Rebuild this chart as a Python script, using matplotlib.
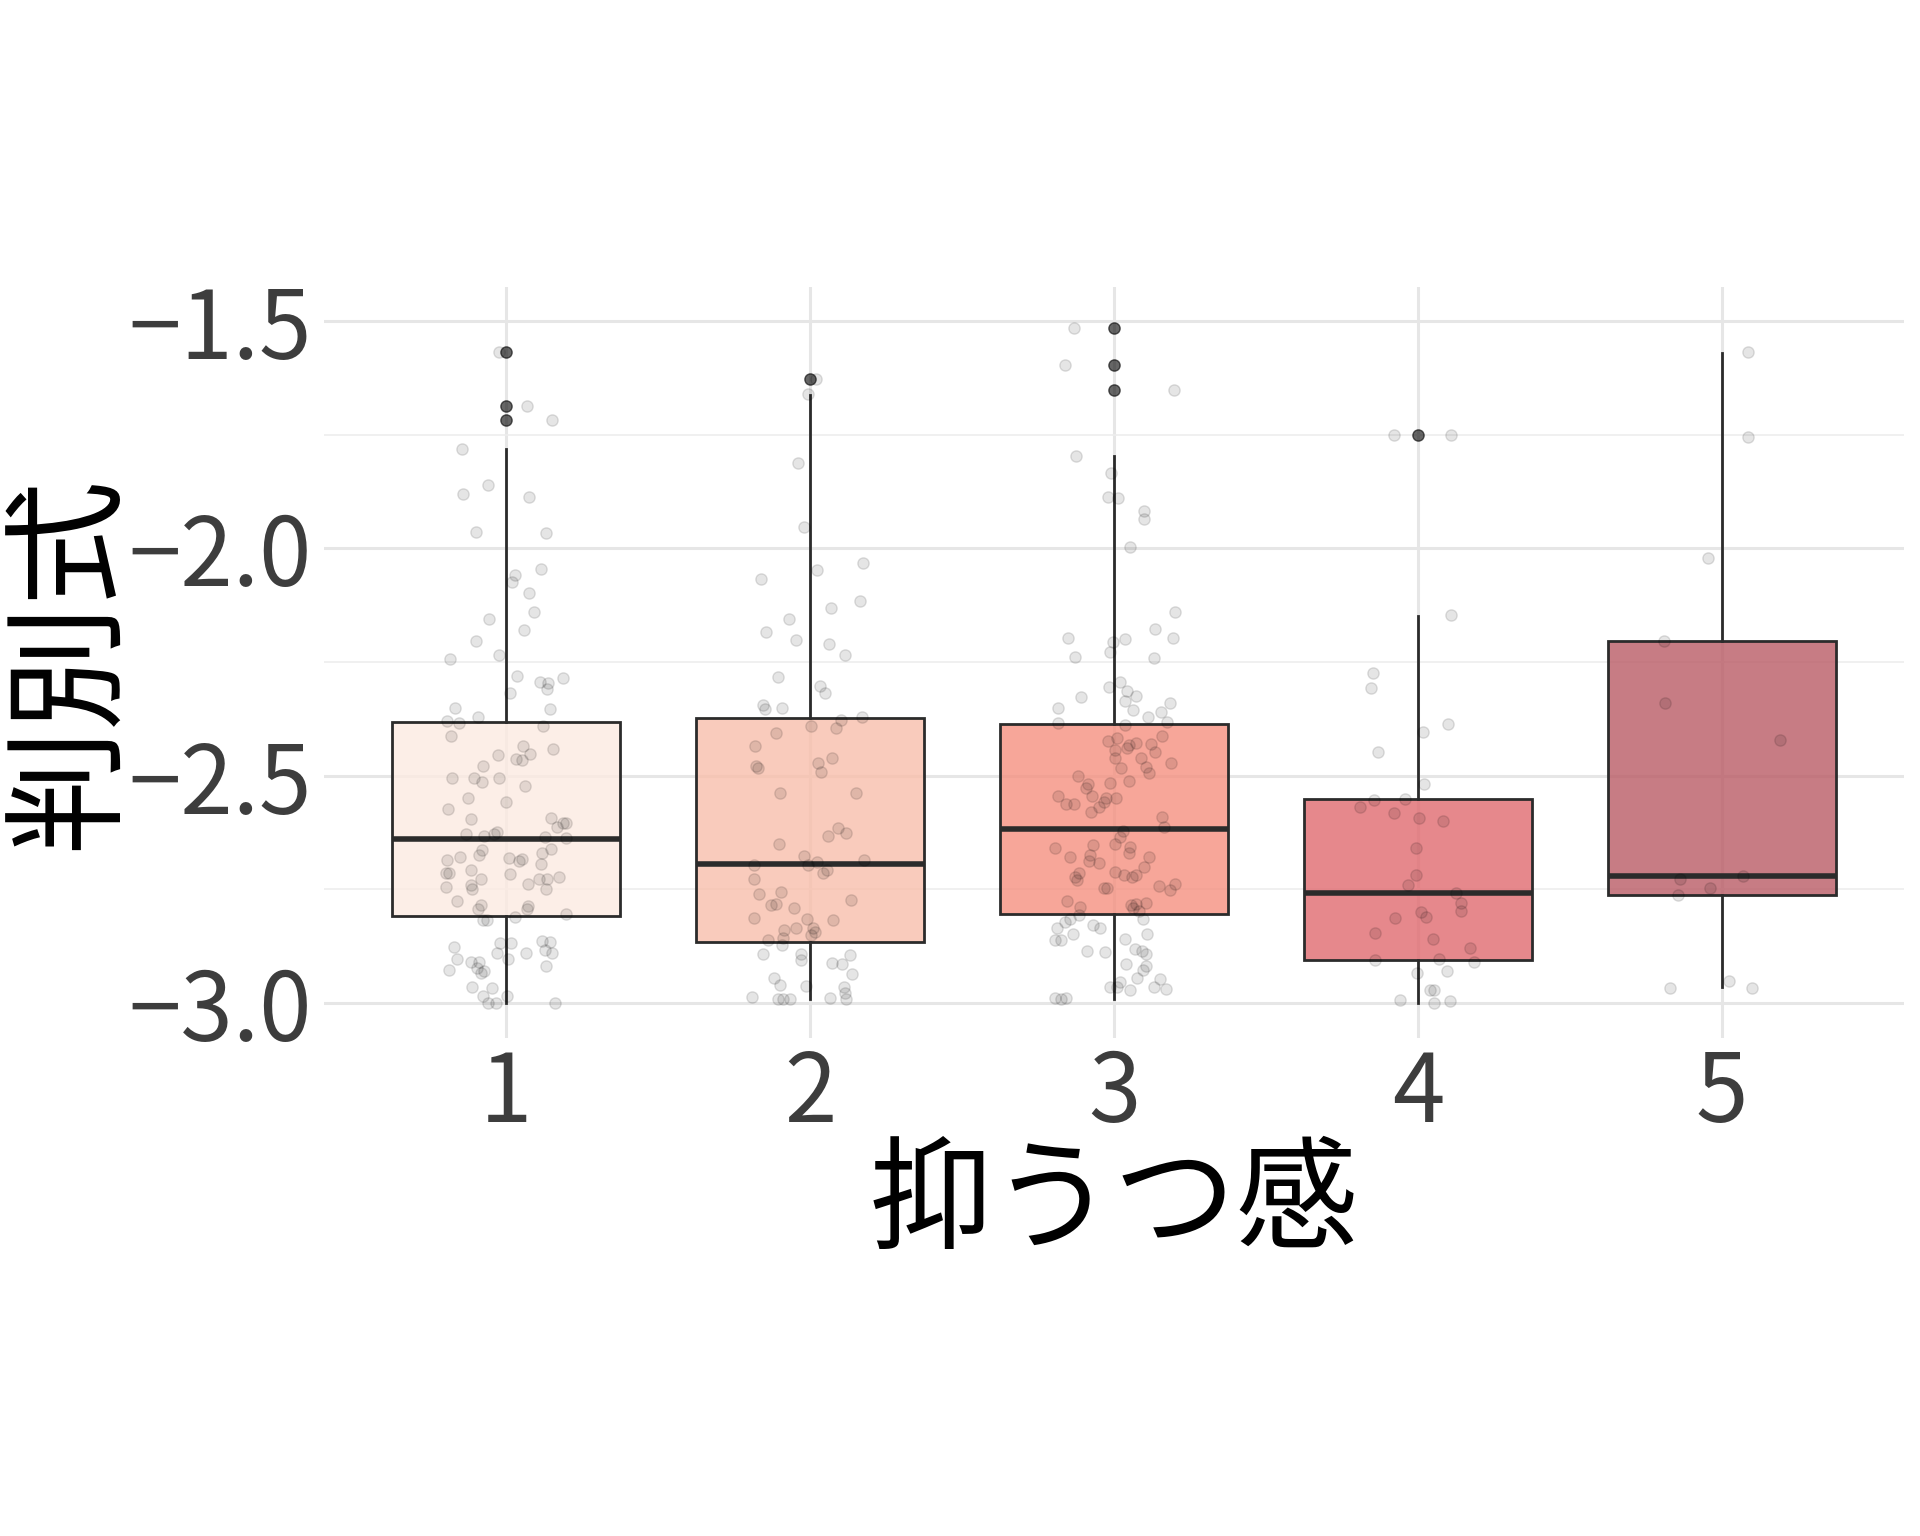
import matplotlib.pyplot as plt
import matplotlib.colors as mcolors
import numpy as np

# groups on the x axis (抑うつ感 score)
groups = ['1', '2', '3', '4', '5']

# box summaries
box_q1 = [-2.809, -2.866, -2.804, -2.905, -2.763]
box_med = [-2.640, -2.695, -2.617, -2.757, -2.720]
box_q3 = [-2.382, -2.374, -2.387, -2.551, -2.204]
whisk_lo = [-3.000, -2.991, -2.991, -3.000, -2.965]
whisk_hi = [-1.782, -1.662, -1.797, -2.148, -1.571]
outliers = [[-1.568, -1.686, -1.718], [-1.627], [-1.515, -1.596, -1.651], [-1.750], []]

fill_colors = ['#FCEAE2', '#F8BEAB', '#F59080', '#E06A6F', '#B95B65']

# jittered raw points: horizontal offset from the group centre, and value
g1_dx = [-0.026, 0.068, 0.150, -0.146, -0.059, -0.143, 0.073, -0.099, 0.129, 0.114,
         0.029, 0.018, 0.074, 0.092, -0.058, 0.058, -0.099, -0.026, -0.186, 0.034,
         0.109, 0.136, 0.186, 0.132, 0.012, -0.168, 0.145, -0.094, -0.197, -0.156,
         0.122, -0.181, 0.053, 0.155, -0.027, 0.032, 0.051, 0.079, -0.076, -0.179,
         -0.107, -0.026, -0.079, 0.060, -0.127, 0.000, -0.193, -0.116, 0.148, 0.186,
         0.197, 0.165, -0.134, -0.073, -0.041, -0.032, 0.127, 0.197, -0.080, 0.146,
         -0.153, -0.090, 0.118, -0.197, 0.007, 0.051, 0.042, 0.115, -0.115, -0.199,
         -0.188, 0.012, -0.082, 0.106, 0.132, 0.174, 0.071, -0.200, -0.118, -0.112,
         0.129, -0.163, -0.082, -0.094, 0.071, 0.067, 0.195, 0.029, -0.076, -0.065,
         -0.173, -0.021, 0.014, 0.118, 0.143, -0.162, -0.032, 0.065, 0.127, 0.150,
         0.006, -0.115, -0.090, -0.096, -0.190, -0.074, -0.085, 0.129, -0.113, -0.047,
         -0.076, -0.059, -0.033, 0.001, 0.160]
g1_y = [-1.568, -1.686, -1.718, -1.781, -1.860, -1.881, -1.886, -1.963, -1.966, -2.046,
        -2.059, -2.074, -2.097, -2.139, -2.156, -2.179, -2.204, -2.234, -2.244, -2.281,
        -2.294, -2.296, -2.284, -2.310, -2.319, -2.352, -2.354, -2.371, -2.380, -2.385,
        -2.390, -2.413, -2.435, -2.441, -2.455, -2.463, -2.465, -2.452, -2.478, -2.504,
        -2.504, -2.504, -2.514, -2.523, -2.549, -2.557, -2.574, -2.596, -2.594, -2.604,
        -2.604, -2.612, -2.628, -2.632, -2.628, -2.624, -2.635, -2.636, -2.663, -2.662,
        -2.678, -2.674, -2.671, -2.685, -2.682, -2.684, -2.688, -2.695, -2.707, -2.715,
        -2.715, -2.717, -2.727, -2.727, -2.727, -2.723, -2.739, -2.744, -2.741, -2.750,
        -2.750, -2.776, -2.784, -2.793, -2.786, -2.793, -2.805, -2.811, -2.818, -2.818,
        -2.876, -2.869, -2.869, -2.864, -2.866, -2.904, -2.890, -2.891, -2.884, -2.889,
        -2.903, -2.910, -2.910, -2.922, -2.928, -2.929, -2.935, -2.919, -2.965, -2.967,
        -2.984, -3.000, -3.000, -2.984, -3.000]

g2_dx = [0.019, -0.006, -0.039, -0.022, 0.022, 0.172, -0.162, 0.068, 0.163, -0.069,
         -0.145, -0.048, 0.062, 0.116, -0.105, 0.033, 0.047, -0.157, -0.148, -0.094,
         0.102, 0.170, 0.001, -0.114, 0.084, -0.181, -0.177, -0.173, 0.026, 0.036,
         0.073, -0.100, 0.152, 0.093, 0.119, 0.057, -0.102, -0.019, 0.021, -0.007,
         0.043, 0.054, 0.176, -0.184, -0.186, -0.170, -0.096, -0.130, -0.114, -0.054,
         0.133, -0.186, -0.012, 0.075, -0.086, -0.047, 0.010, 0.015, 0.001, -0.091,
         -0.140, -0.094, -0.154, -0.032, -0.030, 0.132, 0.071, 0.104, -0.120, 0.136,
         -0.101, -0.015, 0.111, 0.114, -0.193, -0.107, -0.090, -0.065, 0.066, 0.118]
g2_y = [-1.627, -1.660, -1.811, -1.952, -2.047, -2.033, -2.068, -2.130, -2.115, -2.156,
        -2.183, -2.201, -2.210, -2.235, -2.282, -2.303, -2.318, -2.344, -2.354, -2.351,
        -2.378, -2.370, -2.390, -2.406, -2.396, -2.435, -2.478, -2.484, -2.473, -2.491,
        -2.461, -2.537, -2.539, -2.614, -2.627, -2.633, -2.651, -2.677, -2.690, -2.697,
        -2.713, -2.707, -2.686, -2.696, -2.728, -2.760, -2.756, -2.784, -2.782, -2.791,
        -2.773, -2.813, -2.816, -2.817, -2.839, -2.834, -2.835, -2.844, -2.850, -2.856,
        -2.861, -2.872, -2.893, -2.893, -2.906, -2.894, -2.913, -2.914, -2.945, -2.937,
        -2.961, -2.963, -2.965, -2.977, -2.987, -2.991, -2.991, -2.991, -2.989, -2.991]

g3_dx = [-0.132, -0.163, 0.197, -0.125, -0.011, -0.019, 0.014, 0.097, 0.098, 0.054,
         0.199, -0.152, -0.004, 0.036, 0.134, 0.193, -0.127, -0.015, 0.133, -0.018,
         0.019, 0.042, 0.071, -0.109, 0.035, -0.183, 0.061, 0.183, 0.154, 0.111,
         -0.183, 0.173, 0.035, -0.019, 0.008, 0.050, 0.072, 0.123, 0.158, 0.004,
         0.044, 0.136, 0.003, 0.089, 0.104, 0.022, 0.115, 0.187, -0.120, -0.086,
         -0.094, -0.014, 0.048, -0.183, -0.073, -0.159, -0.133, -0.050, -0.033, -0.025,
         0.006, -0.076, 0.157, 0.163, 0.030, 0.019, 0.004, -0.194, -0.068, 0.051,
         0.050, -0.144, -0.079, -0.083, -0.050, 0.114, 0.097, 0.003, -0.115, -0.130,
         -0.123, 0.033, 0.058, 0.072, -0.033, -0.022, 0.147, 0.183, 0.199, -0.155,
         -0.111, 0.055, 0.071, 0.105, 0.061, 0.083, -0.114, -0.144, -0.161, -0.187,
         -0.071, -0.047, 0.094, -0.194, -0.175, -0.136, 0.107, 0.035, -0.090, -0.029,
         0.069, 0.091, 0.105, 0.039, 0.105, 0.094, 0.075, 0.152, -0.015, 0.019,
         0.051, 0.133, 0.172, -0.195, -0.176, -0.158, 0.011]
g3_y = [-1.515, -1.596, -1.651, -1.796, -1.833, -1.887, -1.890, -1.918, -1.935, -1.997,
        -2.140, -2.198, -2.206, -2.200, -2.178, -2.196, -2.238, -2.227, -2.241, -2.304,
        -2.294, -2.314, -2.324, -2.327, -2.336, -2.352, -2.356, -2.341, -2.360, -2.371,
        -2.385, -2.382, -2.389, -2.424, -2.416, -2.433, -2.429, -2.431, -2.413, -2.444,
        -2.439, -2.447, -2.462, -2.461, -2.480, -2.482, -2.494, -2.473, -2.500, -2.518,
        -2.528, -2.517, -2.511, -2.544, -2.544, -2.563, -2.562, -2.568, -2.557, -2.550,
        -2.548, -2.580, -2.590, -2.612, -2.622, -2.635, -2.650, -2.660, -2.652, -2.656,
        -2.671, -2.678, -2.674, -2.687, -2.693, -2.679, -2.700, -2.712, -2.715, -2.723,
        -2.729, -2.718, -2.723, -2.718, -2.747, -2.747, -2.743, -2.752, -2.738, -2.776,
        -2.789, -2.785, -2.782, -2.779, -2.790, -2.797, -2.807, -2.815, -2.822, -2.835,
        -2.829, -2.835, -2.816, -2.862, -2.861, -2.848, -2.849, -2.859, -2.885, -2.887,
        -2.882, -2.885, -2.893, -2.914, -2.918, -2.928, -2.945, -2.947, -2.965, -2.954,
        -2.971, -2.964, -2.970, -2.989, -2.991, -2.989, -2.965]

g4_dx = [-0.080, 0.110, 0.110, -0.148, -0.155, 0.098, 0.017, -0.133, 0.021, -0.146,
         -0.044, -0.191, -0.078, 0.004, 0.083, -0.007, -0.007, -0.033, 0.124, 0.141,
         0.141, 0.011, 0.026, -0.077, -0.141, 0.050, 0.173, -0.140, 0.071, 0.183,
         -0.003, 0.097, 0.040, 0.053, -0.060, 0.053, 0.104]
g4_y = [-1.750, -1.750, -2.147, -2.274, -2.307, -2.387, -2.404, -2.447, -2.518, -2.554,
        -2.551, -2.568, -2.581, -2.593, -2.600, -2.660, -2.718, -2.740, -2.757, -2.779,
        -2.797, -2.800, -2.811, -2.813, -2.845, -2.860, -2.878, -2.906, -2.904, -2.909,
        -2.933, -2.930, -2.972, -2.971, -2.993, -3.000, -2.996]

g5_dx = [0.086, 0.086, -0.046, -0.190, -0.188, 0.193, -0.137, 0.070, -0.039, -0.143,
         -0.170, 0.023, 0.098]
g5_y = [-1.568, -1.754, -2.021, -2.204, -2.341, -2.422, -2.727, -2.721, -2.746, -2.763,
        -2.966, -2.952, -2.968]

jit_dx = [g1_dx, g2_dx, g3_dx, g4_dx, g5_dx]
jit_y = [g1_y, g2_y, g3_y, g4_y, g5_y]

ytick_vals = [-3.0, -2.5, -2.0, -1.5]
ytick_labels = ['\u22123.0', '\u22122.5', '\u22122.0', '\u22121.5']
yminor_vals = [-2.75, -2.25, -1.75]

plt.rcParams['font.family'] = ['Noto Sans CJK JP', 'DejaVu Sans']

fig = plt.figure(figsize=(19.2, 15.36), dpi=100)
ax = fig.add_axes([0.1688, 0.3242, 0.8229, 0.4889])

pos = np.arange(1, len(groups) + 1)
stats = []
for i in range(len(groups)):
    stats.append(dict(med=box_med[i], q1=box_q1[i], q3=box_q3[i],
                      whislo=whisk_lo[i], whishi=whisk_hi[i], fliers=[]))

edge = '#2B2B2B'
bp = ax.bxp(stats, positions=pos, widths=0.75, patch_artist=True,
            showcaps=False, showfliers=False,
            boxprops=dict(edgecolor=edge, linewidth=2.0),
            medianprops=dict(color=edge, linewidth=4.0),
            whiskerprops=dict(color=edge, linewidth=2.0))
for patch, c in zip(bp['boxes'], fill_colors):
    patch.set_facecolor(mcolors.to_rgba(c, 0.8))
    patch.set_zorder(2)
for ln in bp['whiskers'] + bp['medians']:
    ln.set_zorder(2.5)

# jittered points
for i in range(len(groups)):
    xs = pos[i] + np.array(jit_dx[i])
    ax.scatter(xs, jit_y[i], s=66, facecolor=(0, 0, 0, 0.10),
               edgecolor=(0, 0, 0, 0.12), linewidth=1.0, zorder=3)

# outliers
for i in range(len(groups)):
    if outliers[i]:
        ax.scatter([pos[i]] * len(outliers[i]), outliers[i], s=66,
                   facecolor=(0, 0, 0, 0.6), edgecolor=(0, 0, 0, 0.6),
                   linewidth=1.0, zorder=4)

ax.set_xlim(0.4, 5.6)
ax.set_ylim(-3.077, -1.425)
ax.set_xticks(pos)
ax.set_xticklabels(groups)
ax.set_yticks(ytick_vals)
ax.set_yticklabels(ytick_labels)
ax.set_yticks(yminor_vals, minor=True)

ax.set_axisbelow(True)
ax.grid(which='major', color='#E6E6E6', linewidth=2.2)
ax.grid(which='minor', axis='y', color='#EDEDED', linewidth=1.2)
for s in ax.spines.values():
    s.set_visible(False)
ax.tick_params(which='both', length=0)
ax.tick_params(axis='both', labelsize=68, labelcolor='#3D3D3D')
ax.tick_params(axis='x', pad=6)
ax.tick_params(axis='y', pad=9)

ax.set_xlabel('抑うつ感', fontsize=88, color='black')
ax.xaxis.set_label_coords(0.5, -0.138)
ax.set_ylabel('判別式', fontsize=90, color='black')
ax.yaxis.set_label_coords(-0.119, 0.5)

fig.savefig('out.png', dpi=100)
